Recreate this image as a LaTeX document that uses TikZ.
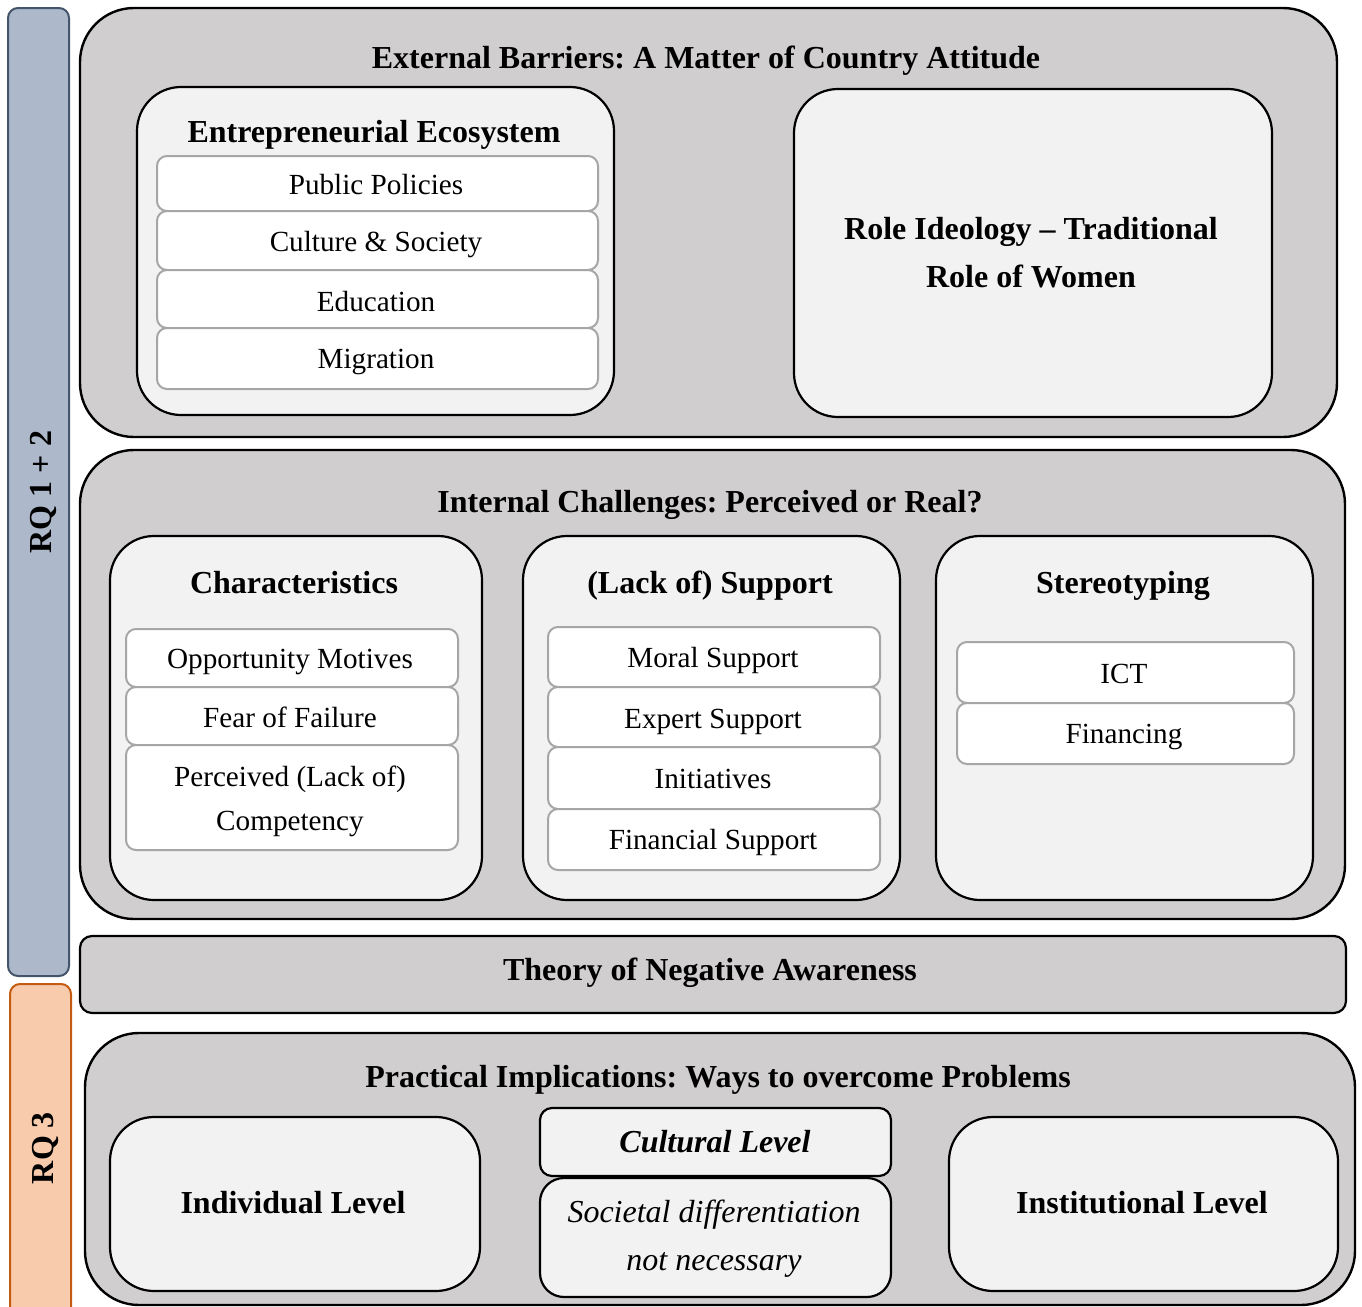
\documentclass[tikz,border=0pt]{standalone}
\usepackage{fontspec}
\setmainfont{Liberation Serif}
\frenchspacing
\begin{document}
\begin{tikzpicture}[x=0.5pt,y=-0.5pt,
  outerbox/.style={draw=black,line width=1.2pt,fill=panelgray,rounded corners=27pt},
  innerbox/.style={draw=black,line width=1.1pt,fill=innergray,rounded corners=22pt},
  itembox/.style={draw=itemline,line width=1pt,fill=white,rounded corners=5pt},
  flatbox/.style={draw=black,line width=1.1pt,fill=innergray,rounded corners=6pt},
  title/.style={font=\fontsize{16}{18}\selectfont\bfseries,text height=0.75em,text depth=0.25em},
  item/.style={font=\fontsize{14.6}{22}\selectfont,align=center},
  oneline/.style={text height=0.75em,text depth=0.25em},
  rqlabel/.style={font=\fontsize{16}{18}\selectfont\bfseries,rotate=90,text height=0.75em,text depth=0.25em}]
\definecolor{panelgray}{HTML}{D0CECE}
\definecolor{innergray}{HTML}{F2F2F2}
\definecolor{itemline}{HTML}{A6A6A6}
\definecolor{rqblue}{HTML}{ADB9CA}
\definecolor{rqblueline}{HTML}{44546A}
\definecolor{rqorange}{HTML}{F8CBAD}
\definecolor{rqorangeline}{HTML}{C55A11}
\useasboundingbox (0,0) rectangle (1362,1307);

% research question bars
\path[draw=rqblueline,line width=1pt,fill=rqblue,rounded corners=5pt] (8,8) rectangle (69,976);
\node[rqlabel] (rq12) at (47,492) {RQ 1 + 2};
\path[draw=rqorangeline,line width=1pt,fill=rqorange,rounded corners=5pt] (10,984) rectangle (71,1318);
\node[rqlabel] (rq3) at (49,1148) {RQ 3};

% external barriers
\path[outerbox] (80,8) rectangle (1337,437);
\node[title] (ext) at (706,63) {External Barriers: A Matter of Country Attitude};
\path[innerbox] (137,87) rectangle (614,415);
\node[title] (eco) at (374,137) {Entrepreneurial Ecosystem};
\path[itembox] (157,156) rectangle (598,211);
\node[item,oneline] (pp) at (376,189) {Public Policies};
\path[itembox] (157,211) rectangle (598,270);
\node[item,oneline] (cs) at (376,246) {Culture \& Society};
\path[itembox] (157,270) rectangle (598,328);
\node[item,oneline] (edu) at (376,306) {Education};
\path[itembox] (157,328) rectangle (598,389);
\node[item,oneline] (mig) at (376,363) {Migration};
\path[innerbox] (794,89) rectangle (1272,417);
\node[title,align=center,font=\fontsize{16}{24}\selectfont\bfseries,text height=,text depth=] (role) at (1031,253) {Role Ideology -- Traditional\\Role of Women};

% internal challenges
\path[outerbox] (80,450) rectangle (1345,919);
\node[title] (int) at (710,507) {Internal Challenges: Perceived or Real?};

\path[innerbox] (110,536) rectangle (482,900);
\node[title] (char) at (294,588) {Characteristics};
\path[itembox] (126,629) rectangle (458,687);
\node[item,oneline] (opp) at (290,663) {Opportunity Motives};
\path[itembox] (126,687) rectangle (458,745);
\node[item,oneline] (fear) at (290,722) {Fear of Failure};
\path[itembox] (126,745) rectangle (458,850);
\node[item] (comp) at (290,801) {Perceived (Lack of)\\Competency};

\path[innerbox] (523,536) rectangle (900,900);
\node[title] (sup) at (710,588) {(Lack of) Support};
\path[itembox] (548,627) rectangle (880,687);
\node[item,oneline] (moral) at (713,662) {Moral Support};
\path[itembox] (548,687) rectangle (880,747);
\node[item,oneline] (expert) at (713,723) {Expert Support};
\path[itembox] (548,747) rectangle (880,809);
\node[item,oneline] (init) at (713,783) {Initiatives};
\path[itembox] (548,809) rectangle (880,870);
\node[item,oneline] (fin) at (713,844) {Financial Support};

\path[innerbox] (936,536) rectangle (1313,900);
\node[title] (stereo) at (1123,588) {Stereotyping};
\path[itembox] (957,642) rectangle (1294,703);
\node[item,oneline] (ict) at (1124,678) {ICT};
\path[itembox] (957,703) rectangle (1294,764);
\node[item,oneline] (finan) at (1124,738) {Financing};

% theory band
\path[draw=black,line width=1.1pt,fill=panelgray,rounded corners=6pt] (80,936) rectangle (1346,1013);
\node[title] (theory) at (710,975) {Theory of Negative Awareness};

% practical implications
\path[outerbox] (85,1033) rectangle (1355,1305);
\node[title] (prac) at (718,1082) {Practical Implications: Ways to overcome Problems};
\path[innerbox] (110,1117) rectangle (480,1291);
\node[title] (indiv) at (293,1208) {Individual Level};
\path[flatbox] (540,1108) rectangle (891,1176);
\node[title,font=\fontsize{16}{18}\selectfont\bfseries\itshape] (cult) at (715,1147) {Cultural Level};
\path[flatbox,rounded corners=12pt] (540,1178) rectangle (891,1297);
\node[item,font=\fontsize{16}{24}\selectfont\itshape] (soc) at (714,1239) {Societal differentiation\\not necessary};
\path[innerbox] (949,1117) rectangle (1338,1291);
\node[title] (inst) at (1142,1208) {Institutional Level};
\end{tikzpicture}
\end{document}
